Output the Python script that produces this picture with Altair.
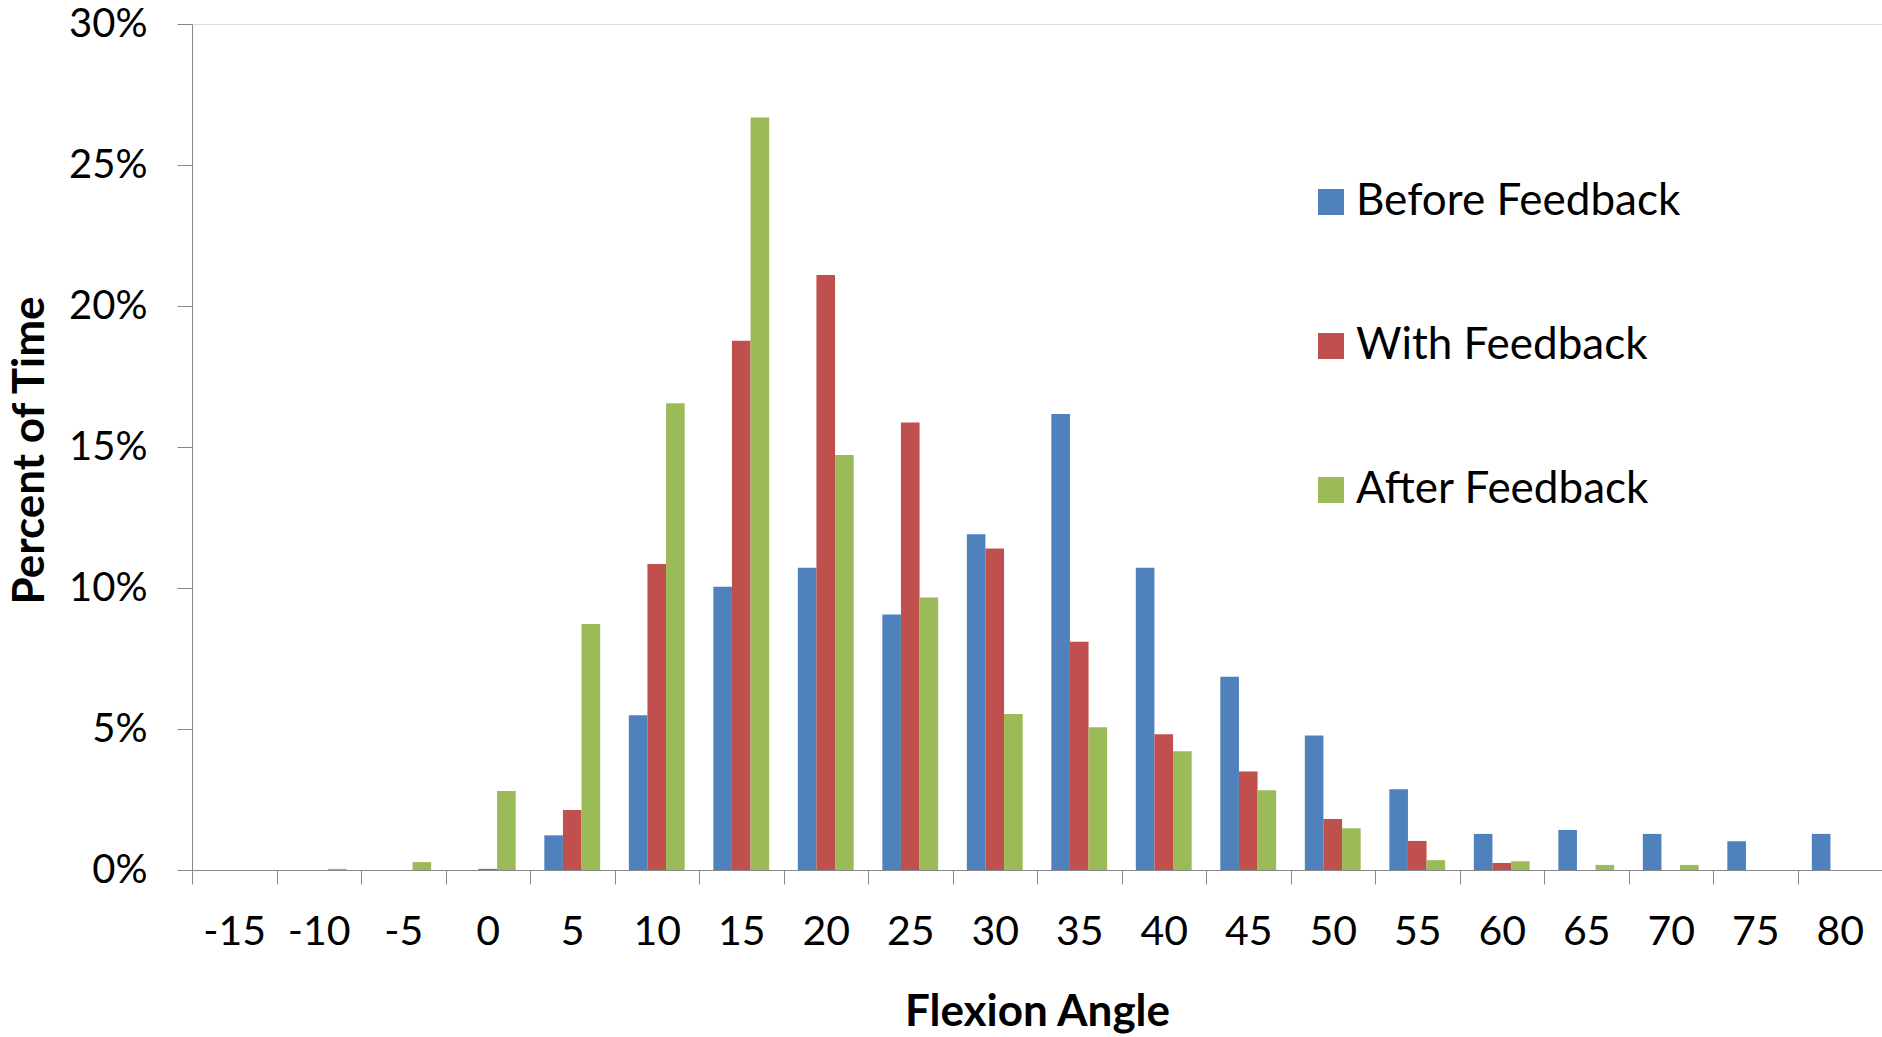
import altair as alt
import pandas as pd

angles = ["-15", "-10", "-5", "0", "5", "10", "15", "20", "25", "30",
          "35", "40", "45", "50", "55", "60", "65", "70", "75", "80"]
series = ["Before Feedback", "With Feedback", "After Feedback"]
before = [0, 0, 0, 0, 1.23, 5.49, 10.04, 10.72, 9.06, 11.91,
          16.17, 10.72, 6.85, 4.77, 2.86, 1.28, 1.42, 1.28, 1.02, 1.28]
with_fb = [0, 0, 0, 0.04, 2.13, 10.85, 18.77, 21.10, 15.87, 11.40,
           8.09, 4.81, 3.49, 1.81, 1.03, 0.25, 0, 0, 0, 0]
after = [0, 0.04, 0.28, 2.80, 8.72, 16.55, 26.68, 14.72, 9.66, 5.53,
         5.06, 4.21, 2.83, 1.48, 0.35, 0.31, 0.18, 0.18, 0, 0]
colors = ["#4F81BD", "#C0504D", "#9BBB59"]
y_ticks = [0, 0.05, 0.10, 0.15, 0.20, 0.25, 0.30]

rows = []
for name, vals in zip(series, [before, with_fb, after]):
    for a, v in zip(angles, vals):
        rows.append({"angle": a, "series": name, "value": v / 100})
df = pd.DataFrame(rows)

FONT = "Lato"
AXIS_COLOR = "#868686"

chart = alt.Chart(df).mark_bar().encode(
    x=alt.X("angle:N", sort=angles,
            scale=alt.Scale(paddingInner=0, paddingOuter=0),
            axis=alt.Axis(title="Flexion Angle", labelAngle=0, tickBand="extent",
                          labelFont=FONT, titleFont=FONT,
                          labelFontSize=41, labelBaseline="middle", labelPadding=48,
                          tickSize=14, titleFontSize=44, titleFontWeight="bold",
                          titleY=142, titleBaseline="middle")),
    xOffset=alt.XOffset("series:N", sort=series,
                        scale=alt.Scale(paddingInner=0, paddingOuter=0.77)),
    y=alt.Y("value:Q", scale=alt.Scale(domain=[0, 0.3], nice=False),
            axis=alt.Axis(title="Percent of Time", values=y_ticks, format=".0%",
                          labelFont=FONT, titleFont=FONT,
                          grid=False, labelFontSize=40, labelPadding=30, tickSize=15,
                          titleFontSize=44, titleFontWeight="bold", titleAngle=-90,
                          titleX=-162, titleY=426, titleAlign="center",
                          titleBaseline="middle")),
    color=alt.Color("series:N", sort=series,
                    scale=alt.Scale(domain=series, range=colors),
                    legend=alt.Legend(title=None, orient="none", legendX=1117, legendY=156,
                                      symbolType="square", symbolSize=676,
                                      symbolStrokeWidth=0, symbolOpacity=1,
                                      labelFontSize=44, labelOffset=3, labelLimit=600,
                                      rowPadding=100, padding=0, labelFont=FONT,
                                      labelColor="black")),
).properties(
    width=1690, height=846,
    autosize=alt.AutoSizeParams(type="none"),
    padding={"left": 192, "top": 24, "right": 0, "bottom": 167},
).configure_view(stroke=None).configure_axis(
    domainColor=AXIS_COLOR, tickColor=AXIS_COLOR, domainWidth=2, tickWidth=2,
    labelFont=FONT, titleFont=FONT, labelColor="black", titleColor="black",
).configure(background="white")

chart.save("out.html", embed_options={"renderer": "svg", "actions": False})
